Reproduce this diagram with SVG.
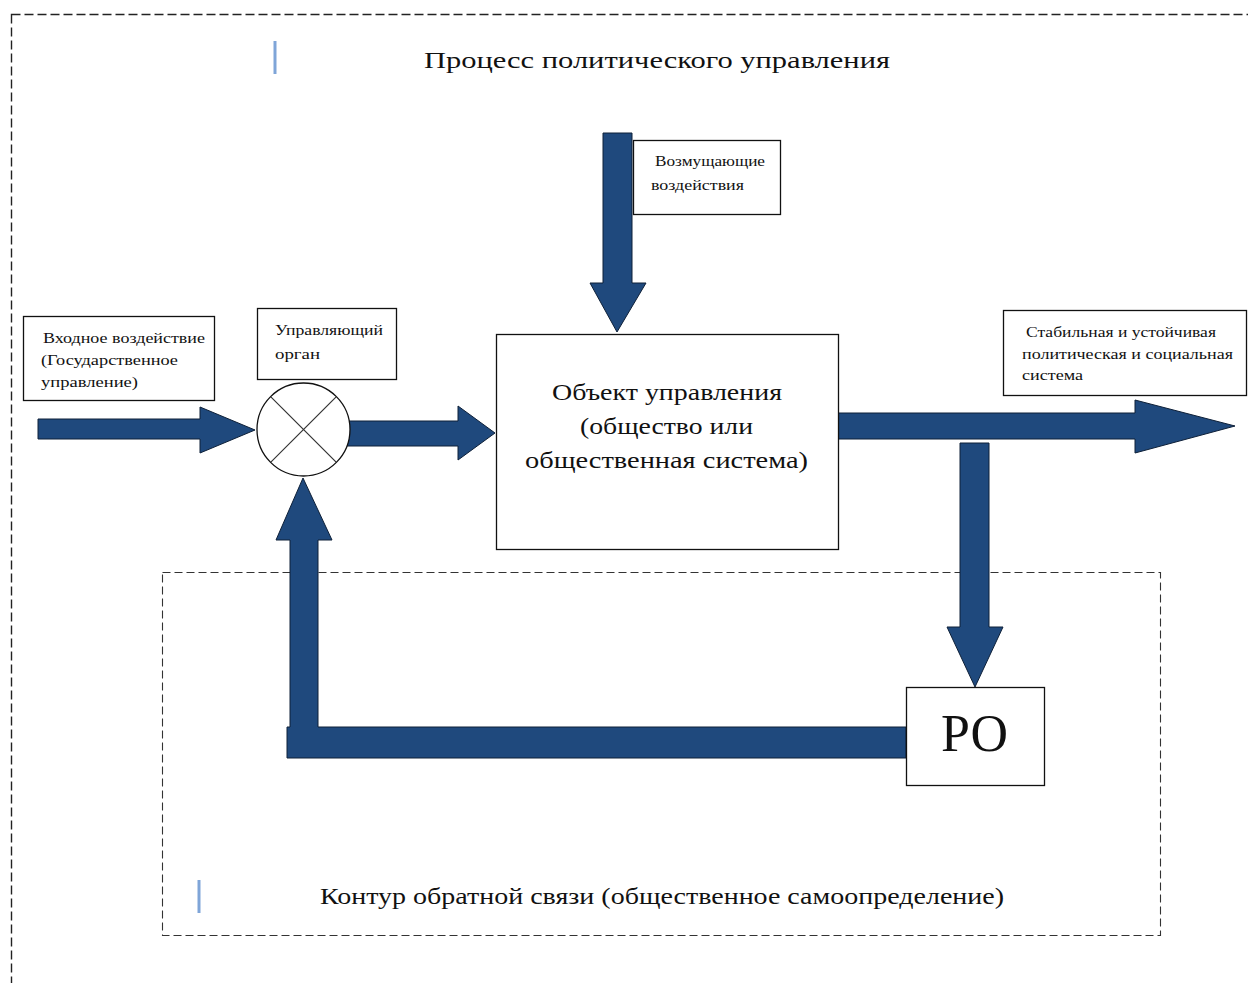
<svg xmlns="http://www.w3.org/2000/svg" width="1248" height="983" viewBox="0 0 1248 983">
<defs>
<style>
.frame{fill:none;stroke:#222;stroke-width:1.4;stroke-dasharray:9 4}
.inner{fill:none;stroke:#333;stroke-width:1.1;stroke-dasharray:8 4}
.box{fill:#fff;stroke:#111;stroke-width:1.3}
.arrow{fill:#1F497D;stroke:#0e2038;stroke-width:1}
.mark{stroke:#7fa5d8;stroke-width:3}
.t{font-family:"Liberation Serif","DejaVu Serif",serif;fill:#111}
.big{font-size:24px}
.small{font-size:14px}
</style>
</defs>
<rect width="1248" height="983" fill="#fff"/>
<rect class="frame" x="11.5" y="14.5" width="1260" height="1000"/>
<rect class="inner" x="162.5" y="572.5" width="998" height="363"/>
<line class="mark" x1="275" y1="41" x2="275" y2="74"/>
<line class="mark" x1="199" y1="880" x2="199" y2="913"/>
<text class="t big" x="424" y="68" textLength="466" lengthAdjust="spacingAndGlyphs">Процесс политического управления</text>
<text class="t big" x="320" y="904" textLength="684" lengthAdjust="spacingAndGlyphs">Контур обратной связи (общественное самоопределение)</text>

<g id="connectors">
<path class="arrow" d="M38,419 H200 V407 L255,430 L200,453 V439 H38 Z"/>
<path class="arrow" d="M345,421 H458 V406 L495,433 L458,460 V446 H345 Z"/>
<path class="arrow" d="M603,133 H632 V283 H646 L617,332 L590,283 H603 Z"/>
<path class="arrow" d="M838,413 H1135 V400 L1235,426 L1135,453 V439 H838 Z"/>
<path class="arrow" d="M960,443 H989 V627 H1003 L975,687 L947,627 H960 Z"/>
<path class="arrow" d="M287,727 H290 V540 H276 L303,478 L332,540 H318 V727 H906 V758 H287 Z"/>
</g>

<g id="input-label">
<rect class="box" x="23.5" y="316.5" width="191" height="84"/>
<text class="t small" x="43" y="343" textLength="162" lengthAdjust="spacingAndGlyphs">Входное воздействие</text>
<text class="t small" x="41" y="365" textLength="137" lengthAdjust="spacingAndGlyphs">(Государственное</text>
<text class="t small" x="41" y="387" textLength="97" lengthAdjust="spacingAndGlyphs">управление)</text>
</g>

<g id="control-organ-label">
<rect class="box" x="257.5" y="308.5" width="139" height="71"/>
<text class="t small" x="275" y="335" textLength="108" lengthAdjust="spacingAndGlyphs">Управляющий</text>
<text class="t small" x="275" y="359" textLength="45" lengthAdjust="spacingAndGlyphs">орган</text>
</g>

<g id="summator">
<circle cx="303.5" cy="429.5" r="46.5" fill="#fff" stroke="#111" stroke-width="1.3"/>
<line x1="270.6" y1="396.6" x2="336.4" y2="462.4" stroke="#333" stroke-width="1.2"/>
<line x1="336.4" y1="396.6" x2="270.6" y2="462.4" stroke="#333" stroke-width="1.2"/>
</g>

<g id="disturbance-label">
<rect class="box" x="633.5" y="140.5" width="147" height="74"/>
<text class="t small" x="655" y="166" textLength="110" lengthAdjust="spacingAndGlyphs">Возмущающие</text>
<text class="t small" x="651" y="190" textLength="93" lengthAdjust="spacingAndGlyphs">воздействия</text>
</g>

<g id="object">
<rect class="box" x="496.5" y="334.5" width="342" height="215"/>
<text class="t big" x="552" y="400" textLength="230" lengthAdjust="spacingAndGlyphs">Объект управления</text>
<text class="t big" x="580" y="434" textLength="173" lengthAdjust="spacingAndGlyphs">(общество или</text>
<text class="t big" x="525" y="468" textLength="283" lengthAdjust="spacingAndGlyphs">общественная система)</text>
</g>

<g id="output-label">
<rect class="box" x="1003.5" y="310.5" width="243" height="85"/>
<text class="t small" x="1026" y="337" textLength="190" lengthAdjust="spacingAndGlyphs">Стабильная и устойчивая</text>
<text class="t small" x="1022" y="359" textLength="211" lengthAdjust="spacingAndGlyphs">политическая и социальная</text>
<text class="t small" x="1022" y="380" textLength="61" lengthAdjust="spacingAndGlyphs">система</text>
</g>

<g id="po">
<rect class="box" x="906.5" y="687.5" width="138" height="98"/>
<text class="t" x="941" y="751" font-size="52" textLength="67" lengthAdjust="spacingAndGlyphs">РО</text>
</g>
</svg>
